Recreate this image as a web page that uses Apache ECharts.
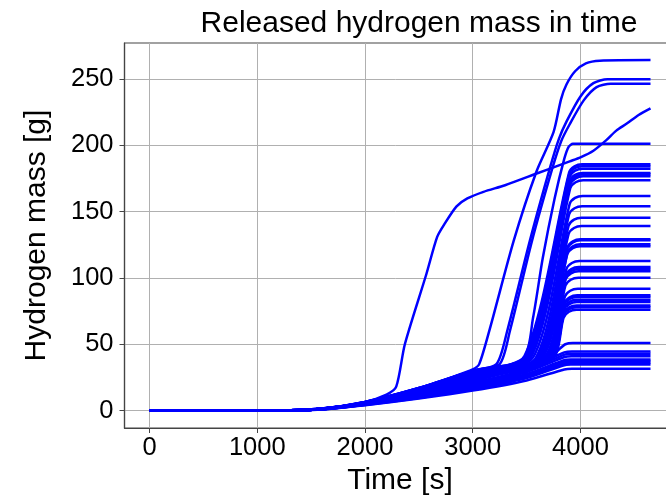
<!DOCTYPE html>
<html>
<head>
<meta charset="utf-8">
<script src="https://cdn.jsdelivr.net/npm/echarts@6/dist/echarts.min.js"></script>
<style>
  html, body { margin: 0; padding: 0; background: #fff; }
  #main { width: 666px; height: 499px; }
</style>
</head>
<body>
<div id="main"></div>
<script>
// tick labels
var xTicks = [0, 1000, 2000, 3000, 4000];
var yTicks = [0, 50, 100, 150, 200, 250];

// runs, [time s, mass g]
var earlyRun = [[0,0],[1200,0],[1600,1.5],[2000,6.5],[2200,12],[2290,18],[2370,50],[2570,103],[2670,131],[2740,141],[2850,154],[2950,160],[3100,165],[3300,170],[3600,179],[3800,185],[3900,188],[4000,191],[4120,196],[4240,204],[4330,211],[4430,216.5],[4540,223],[4650,228]];
var topRun = [[0,0],[1200,0],[1600,1.5],[2000,6.5],[2500,17],[2800,25],[3000,31],[3060,35],[3160,62],[3380,128],[3590,180],[3750,210],[3820,235],[3870,246],[3950,256],[4050,262],[4180,264],[4650,264.4]];
var run250 = [[0,0],[1200,0],[1600,1.5],[2000,6.5],[2500,17],[3000,30],[3220,35],[3320,60],[3530,128],[3720,184],[3800,205],[3870,218],[4000,237],[4120,247],[4250,250],[4650,250]];
var run247 = [[0,0],[1200,0],[1600,1.4],[2000,6.3],[2500,16.5],[3000,29.5],[3250,35],[3345,60],[3550,128],[3740,183],[3820,203],[3900,216],[4030,234],[4150,244],[4280,246.5],[4650,246.5]];
var run201 = [[0,0],[1200,0],[1600,1.3],[2000,6],[2500,16],[3000,28],[3470,39],[3560,70],[3650,115],[3760,160],[3850,190],[3890,199],[3930,201.2],[4650,201.2]];

var bundleRuns = [
  [[0,0],[1200,0],[1600,1.4],[2000,6.3],[2500,17],[3000,30],[3480,41],[3895,179.8],[3945,184.3],[4015,185.8],[4650,185.8]],
  [[0,0],[1200,0],[1600,1.4],[2000,6.2],[2500,16.8],[3000,29.8],[3490,41],[3895,178.3],[3945,182.8],[4015,184.3],[4650,184.3]],
  [[0,0],[1200,0],[1600,1.4],[2000,6.2],[2500,16.6],[3000,29.5],[3500,40],[3900,176.5],[3950,181],[4020,182.5],[4650,182.5]],
  [[0,0],[1200,0],[1600,1.4],[2000,6.1],[2500,16.4],[3000,29.2],[3510,40],[3900,173.3],[3950,177.8],[4020,179.3],[4650,179.3]],
  [[0,0],[1200,0],[1600,1.3],[2000,6.1],[2500,16.2],[3000,29],[3520,40],[3905,172.2],[3955,176.7],[4025,178.2],[4650,178.2]],
  [[0,0],[1200,0],[1600,1.3],[2000,6],[2500,16],[3000,28.8],[3530,41],[3905,170.7],[3955,175.2],[4025,176.7],[4650,176.7]],
  [[0,0],[1200,0],[1600,1.3],[2000,6],[2500,15.8],[3000,28.5],[3540,40],[3905,167.7],[3955,172.2],[4025,173.7],[4650,173.7]],
  [[0,0],[1200,0],[1600,1.3],[2000,5.9],[2500,15.6],[3000,28.2],[3560,40],[3900,155.9],[3950,160.4],[4020,161.9],[4650,161.9]],
  [[0,0],[1200,0],[1600,1.3],[2000,5.9],[2500,15.4],[3000,28],[3580,39],[3895,148.1],[3945,152.6],[4015,154.1],[4650,154.1]],
  [[0,0],[1200,0],[1600,1.3],[2000,5.8],[2500,15.2],[3000,27.6],[3600,40],[3890,139.5],[3940,144],[4010,145.5],[4650,145.5]],
  [[0,0],[1200,0],[1600,1.2],[2000,5.8],[2500,15],[3000,27.3],[3610,39],[3890,133.2],[3940,137.7],[4010,139.2],[4650,139.2]],
  [[0,0],[1200,0],[1600,1.2],[2000,5.7],[2500,14.8],[3000,27],[3630,40],[3880,123.2],[3930,127.7],[4000,129.2],[4650,129.2]],
  [[0,0],[1200,0],[1600,1.2],[2000,5.7],[2500,14.6],[3000,26.8],[3635,40],[3880,122.4],[3930,126.9],[4000,128.4],[4650,128.4]],
  [[0,0],[1200,0],[1600,1.2],[2000,5.6],[2500,14.4],[3000,26.5],[3640,39],[3880,119.4],[3930,123.9],[4000,125.4],[4650,125.4]],
  [[0,0],[1200,0],[1600,1.2],[2000,5.6],[2500,14.2],[3000,26.2],[3645,40],[3878,117.9],[3928,122.4],[3998,123.9],[4650,123.9]],
  [[0,0],[1200,0],[1600,1.2],[2000,5.5],[2500,14],[3000,26],[3660,39],[3870,106.8],[3920,111.3],[3990,112.8],[4650,112.8]],
  [[0,0],[1200,0],[1600,1.1],[2000,5.5],[2500,13.8],[3000,25.7],[3670,40],[3865,102.3],[3915,106.8],[3985,108.3],[4650,108.3]],
  [[0,0],[1200,0],[1600,1.1],[2000,5.4],[2500,13.6],[3000,25.4],[3675,39],[3865,100.8],[3915,105.3],[3985,106.8],[4650,106.8]],
  [[0,0],[1200,0],[1600,1.1],[2000,5.4],[2500,13.4],[3000,25.2],[3680,40],[3862,99],[3912,103.5],[3982,105],[4650,105]],
  [[0,0],[1200,0],[1600,1.1],[2000,5.3],[2500,13.2],[3000,25],[3690,39],[3860,94.2],[3910,98.7],[3980,100.2],[4650,100.2]],
  [[0,0],[1200,0],[1600,1.1],[2000,5.3],[2500,13],[3000,24.8],[3700,40],[3855,85.9],[3905,90.4],[3975,91.9],[4650,91.9]],
  [[0,0],[1200,0],[1600,1.1],[2000,5.2],[2500,12.8],[3000,24.5],[3710,40],[3850,80.9],[3900,85.4],[3970,86.9],[4650,86.9]],
  [[0,0],[1200,0],[1600,1.1],[2000,5.2],[2500,12.6],[3000,24.2],[3715,40],[3850,79.6],[3900,84.1],[3970,85.6],[4650,85.6]],
  [[0,0],[1200,0],[1600,1],[2000,5.1],[2500,12.4],[3000,24],[3720,39],[3848,77.6],[3898,82.1],[3968,83.6],[4650,83.6]],
  [[0,0],[1200,0],[1600,1],[2000,5.1],[2500,12.2],[3000,23.8],[3725,40],[3846,75.8],[3896,80.3],[3966,81.8],[4650,81.8]],
  [[0,0],[1200,0],[1600,1],[2000,5],[2500,12],[3000,23.5],[3730,39],[3845,73.3],[3895,77.8],[3965,79.3],[4650,79.3]],
  [[0,0],[1200,0],[1600,1],[2000,5],[2500,11.8],[3000,23.2],[3735,40],[3844,72],[3894,76.5],[3964,78],[4650,78]],
  [[0,0],[1200,0],[1600,1],[2000,4.9],[2500,11.6],[3000,23],[3740,39],[3843,70],[3893,74.5],[3963,76],[4650,76]]
];

var lowRuns = [
  [[0,0],[1200,0],[1600,0.8],[2000,4],[2500,9],[3000,15],[3500,22.7],[3850,31],[3920,31.5],[4650,31.5]],
  [[0,0],[1200,0],[1600,0.9],[2000,4.2],[2500,9.5],[3000,16],[3500,24.5],[3840,34],[3910,34.7],[4650,34.7]],
  [[0,0],[1200,0],[1600,0.9],[2000,4.3],[2500,10],[3000,16.5],[3500,25.5],[3840,35.3],[3910,36],[4650,36]],
  [[0,0],[1200,0],[1600,1],[2000,4.5],[2500,10.5],[3000,17.5],[3500,26.5],[3840,36.6],[3910,37.3],[4650,37.3]],
  [[0,0],[1200,0],[1600,1],[2000,4.6],[2500,11],[3000,18],[3500,27.5],[3840,37.8],[3910,38.5],[4650,38.5]],
  [[0,0],[1200,0],[1600,1],[2000,4.8],[2500,11.5],[3000,19],[3500,29],[3845,40.2],[3915,41],[4650,41]],
  [[0,0],[1200,0],[1600,1.1],[2000,5],[2500,12],[3000,20],[3500,30],[3845,42],[3915,42.8],[4650,42.8]],
  [[0,0],[1200,0],[1600,1.1],[2000,5.2],[2500,12.5],[3000,21],[3500,31],[3850,43.8],[3920,44.6],[4650,44.6]],
  [[0,0],[1200,0],[1600,1.2],[2000,5.5],[2500,13],[3000,22],[3500,33],[3700,38],[3800,46],[3860,50],[3930,50.9],[4650,50.9]]
];

var allRuns = [earlyRun, topRun, run250, run247, run201].concat(bundleRuns, lowRuns);

var myChart = echarts.init(document.getElementById('main'), null, {renderer: 'canvas'});
var font = 'Liberation Sans, Arial, sans-serif';
var seriesList = [];
for (var i = 0; i < allRuns.length; i++) {
    seriesList.push({
        name: 'run ' + (i + 1),
        type: 'line',
        data: allRuns[i],
        showSymbol: false,
        smooth: 0.25,
        lineStyle: {color: '#0000ff', width: 2.5},
        itemStyle: {color: '#0000ff'},
        z: 3
    });
}

var option = {
    animation: false,
    backgroundColor: '#fff',
    title: {
        text: 'Released hydrogen mass in time',
        left: 414,
        top: 4,
        textAlign: 'center',
        textStyle: {fontFamily: font, fontSize: 30, fontWeight: 'normal', color: '#000'}
    },
    grid: {
        left: 124.5,
        top: 43,
        right: -9.5,
        bottom: 71,
        outerBoundsMode: 'none',
        containLabel: false,
        show: true,
        borderColor: '#444',
        borderWidth: 1.2,
        backgroundColor: 'transparent'
    },
    xAxis: {
        type: 'value',
        min: -232,
        max: 4882,
        name: 'Time [s]',
        nameLocation: 'middle',
        nameGap: 27,
        nameTextStyle: {fontFamily: font, fontSize: 30, color: '#000'},
        axisLine: {show: true, onZero: false, lineStyle: {color: '#444', width: 1.2}},
        axisTick: {show: true, length: 5, customValues: xTicks, lineStyle: {color: '#444'}},
        axisLabel: {customValues: xTicks, fontFamily: font, fontSize: 25.5, color: '#000', margin: 7,
            formatter: function (v) { return String(v); }},
        splitLine: {show: true, lineStyle: {color: '#b0b0b0', width: 1}}
    },
    yAxis: {
        type: 'value',
        min: -13.2,
        max: 277.3,
        name: 'Hydrogen mass [g]',
        nameLocation: 'middle',
        nameGap: 73,
        nameTextStyle: {fontFamily: font, fontSize: 30, color: '#000'},
        axisLine: {show: true, onZero: false, lineStyle: {color: '#444', width: 1.2}},
        axisTick: {show: true, length: 5, customValues: yTicks, lineStyle: {color: '#444'}},
        axisLabel: {customValues: yTicks, fontFamily: font, fontSize: 25.5, color: '#000', margin: 11,
            formatter: function (v) { return String(v); }},
        splitLine: {show: true, lineStyle: {color: '#b0b0b0', width: 1}}
    },
    series: seriesList
};
myChart.setOption(option);
</script>
</body>
</html>
